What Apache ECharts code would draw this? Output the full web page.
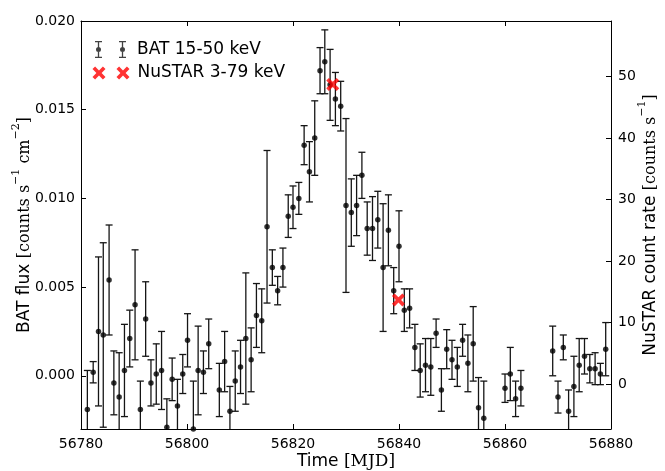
<!DOCTYPE html>
<html>
<head>
<meta charset="utf-8">
<script src="https://cdn.jsdelivr.net/npm/echarts@6/dist/echarts.min.js"></script>
<style>
html,body{margin:0;padding:0;background:#fff;}
#chart{width:665px;height:471px;}
</style>
</head>
<body>
<div id="chart"></div>
<script>
// ---- data ----
const batMjd = [56781.2,56782.3,56783.3,56784.2,56785.3,56786.2,56787.2,56788.2,56789.2,56790.2,
  56791.2,56792.2,56793.2,56794.2,56795.2,56796.2,56797.2,56798.2,56799.2,56800.1,
  56801.2,56802.1,56803.1,56804.1,56806.1,56807.1,56808.1,56809.1,56810.1,56811.1,
  56812.1,56813.1,56814.1,56815.1,56816.1,56817.1,56818.1,56819.1,56820.0,56821.1,
  56822.1,56823.1,56824.1,56825.1,56826.0,56827.0,56828.0,56829.0,56830.0,56831.0,
  56832.0,56833.0,56834.0,56835.0,56836.0,56837.0,56838.0,56839.0,56840.0,56841.0,
  56842.0,56843.0,56844.0,56845.0,56846.0,56847.0,56848.0,56849.0,56850.0,56851.0,
  56852.0,56853.0,56854.0,56855.0,56856.0,56860.0,56861.0,56862.0,56863.0,56869.0,
  56870.0,56871.0,56872.0,56873.0,56874.0,56875.0,56876.0,56877.0,56878.0,56879.0];
const batFlux = [-0.0019,0.0002,0.0025,0.0023,0.0054,-0.0004,-0.0012,0.0003,0.0021,0.0040,
  -0.0019,0.0032,-0.0004,0.0001,0.0003,-0.0029,-0.0002,-0.0017,0.0001,0.0020,
  -0.0030,0.0003,0.0002,0.0018,-0.0008,0.0008,-0.0020,-0.0003,0.0005,0.0021,
  0.0009,0.0034,0.0031,0.0084,0.0061,0.0048,0.0061,0.0090,0.0095,0.0100,
  0.0130,0.0115,0.0134,0.0172,0.0177,0.0164,0.0156,0.0152,0.0096,0.0092,
  0.0096,0.0113,0.0083,0.0083,0.0088,0.0061,0.0082,0.0048,0.0073,0.0037,
  0.0038,0.0016,0.0003,0.0006,0.0005,0.0024,-0.0008,0.0015,0.0009,0.0005,
  0.0020,0.0007,0.0018,-0.0018,-0.0024,-0.0007,0.0001,-0.0013,-0.0007,0.0014,
  -0.0012,0.0016,-0.0020,-0.0006,0.0006,0.0011,0.0004,0.0004,0.0001,0.0015];
const batErr = [0.0022,0.0006,0.0042,0.0052,0.0031,0.0018,0.0025,0.0026,0.0016,0.0031,
  0.0016,0.0021,0.0013,0.0017,0.0022,0.0016,0.0012,0.0015,0.0011,0.0015,
  0.0027,0.0025,0.0012,0.0014,0.0015,0.0017,0.0014,0.0017,0.0015,0.0037,
  0.0018,0.0018,0.0018,0.0043,0.0010,0.0008,0.0011,0.0012,0.0012,0.0009,
  0.0011,0.0017,0.0021,0.0013,0.0018,0.0020,0.0015,0.0014,0.0049,0.0019,
  0.0017,0.0013,0.0015,0.0018,0.0016,0.0036,0.0020,0.0013,0.0020,0.0012,
  0.0011,0.0013,0.0015,0.0015,0.0016,0.0008,0.0012,0.0011,0.0011,0.0011,
  0.0009,0.0016,0.0021,0.0017,0.0021,0.0008,0.0015,0.0010,0.0010,0.0014,
  0.0009,0.0007,0.0012,0.0017,0.0015,0.0010,0.0008,0.0009,0.0006,0.0015];
const nuMjd = [56827.5, 56839.9];
const nuRate = [48.7, 13.7];
const xTicks = [56780, 56800, 56820, 56840, 56860, 56880];
const leftTicks = [0.000, 0.005, 0.010, 0.015, 0.020];
const rightTicks = [0, 10, 20, 30, 40, 50];

// ---- chart ----
const FONT = 'DejaVu Sans';
const SERIF = 'DejaVu Serif';
const chart = echarts.init(document.getElementById('chart'), null, {renderer: 'canvas'});

const errData = batMjd.map((x, i) => [x, batFlux[i] - batErr[i], batFlux[i] + batErr[i]]);
const batPts = batMjd.map((x, i) => [x, batFlux[i]]);
const nuPts = nuMjd.map((x, i) => [x, nuRate[i]]);

const crossPath = 'path://M0,2 L2,0 L5,3 L8,0 L10,2 L7,5 L10,8 L8,10 L5,7 L2,10 L0,8 L3,5 Z';
function crossAt(ox) {
  const p = [[0,2],[2,0],[5,3],[8,0],[10,2],[7,5],[10,8],[8,10],[5,7],[2,10],[0,8],[3,5]];
  return 'M' + p.map(q => (ox + q[0]*1.3).toFixed(2) + ',' + (q[1]*1.3).toFixed(2)).join(' L') + ' Z';
}
const legendCross = 'path://' + crossAt(0) + ' ' + crossAt(24);
function ibeam(cx) {
  const w = 3.5, t = 0.65, h = 17, c = 1.3;
  return `M${cx-w},0 H${cx+w} V${c} H${cx-w} Z ` +
         `M${cx-t},0 H${cx+t} V${h} H${cx-t} Z ` +
         `M${cx-w},${h-c} H${cx+w} V${h} H${cx-w} Z ` +
         `M${cx-2.5},8.5 A2.5,2.5 0 1 1 ${cx+2.5},8.5 A2.5,2.5 0 1 1 ${cx-2.5},8.5 Z`;
}
const legendErr = 'path://' + ibeam(3.5) + ' ' + ibeam(27.5);

const axisLineStyle = {color: '#000', width: 1};
const tickStyle = {color: '#000', width: 1};

const option = {
  backgroundColor: '#fff',
  animation: false,
  textStyle: {fontFamily: FONT},
  grid: {left: 81, right: 54, top: 21, bottom: 42, containLabel: false, outerBoundsMode: 'none'},
  legend: [
    {
      left: 90, top: 36, orient: 'vertical',
      itemWidth: 31, itemHeight: 17,
      data: [{name: 'BAT 15-50 keV', icon: legendErr, itemStyle: {color: '#111'}}],
      textStyle: {fontFamily: FONT, fontSize: 17, color: '#000', padding: [0, 0, 0, 6]},
      selectedMode: false
    },
    {
      left: 87.5, top: 59.5, orient: 'vertical',
      itemWidth: 37, itemHeight: 13,
      data: [{name: 'NuSTAR 3-79 keV', icon: legendCross, itemStyle: {color: '#ff0000'}}],
      textStyle: {fontFamily: FONT, fontSize: 17, color: '#000', padding: [0, 0, 0, 3]},
      selectedMode: false
    }
  ],
  xAxis: [
    {
      type: 'value', position: 'bottom', min: 56780, max: 56880, interval: 20,
      axisLine: {show: true, onZero: false, lineStyle: axisLineStyle},
      axisTick: {show: true, inside: true, length: 5, lineStyle: tickStyle},
      axisLabel: {show: true, color: '#000', fontSize: 14, fontFamily: FONT, margin: 8,
        formatter: v => String(v)},
      splitLine: {show: false},
      name: '{s|Time }{m|[MJD]}', nameLocation: 'middle', nameGap: 24, nameMoveOverlap: false,
      nameTextStyle: {
        rich: {
          s: {fontFamily: FONT, fontSize: 17, color: '#000'},
          m: {fontFamily: SERIF, fontSize: 17, color: '#000'}
        }
      }
    },
    {
      type: 'value', position: 'top', min: 56780, max: 56880, interval: 20,
      axisLine: {show: true, onZero: false, lineStyle: axisLineStyle},
      axisTick: {show: true, inside: true, length: 5, lineStyle: tickStyle},
      axisLabel: {show: false},
      splitLine: {show: false}
    }
  ],
  yAxis: [
    {
      type: 'value', position: 'left', min: -0.003, max: 0.020,
      axisLine: {show: true, onZero: false, lineStyle: axisLineStyle},
      axisTick: {show: true, inside: true, length: 5, lineStyle: tickStyle, customValues: leftTicks},
      axisLabel: {show: true, color: '#000', fontSize: 14, fontFamily: FONT, margin: 6,
        customValues: leftTicks, formatter: v => v.toFixed(3)},
      splitLine: {show: false},
      name: '{s|BAT flux }{m|[counts s}{p|−1}{m| cm}{p|−2}{m|]}',
      nameLocation: 'middle', nameRotate: 90, nameGap: 48, nameMoveOverlap: false,
      nameTextStyle: {
        rich: {
          s: {fontFamily: FONT, fontSize: 17, color: '#000', verticalAlign: 'bottom', lineHeight: 22},
          m: {fontFamily: SERIF, fontSize: 16, color: '#000', verticalAlign: 'bottom', lineHeight: 22},
          p: {fontFamily: SERIF, fontSize: 11, color: '#000', verticalAlign: 'top', lineHeight: 22}
        }
      }
    },
    {
      type: 'value', position: 'right', min: -7.26, max: 59.0,
      axisLine: {show: true, onZero: false, lineStyle: axisLineStyle},
      axisTick: {show: true, inside: true, length: 5, lineStyle: tickStyle, customValues: rightTicks},
      axisLabel: {show: true, color: '#000', fontSize: 14, fontFamily: FONT, margin: 7,
        customValues: rightTicks, formatter: v => String(v)},
      splitLine: {show: false},
      name: '{s|NuSTAR count rate }{m|[counts s}{p|−1}{m|]}',
      nameLocation: 'middle', nameRotate: 90, nameGap: 26, nameMoveOverlap: false,
      nameTextStyle: {
        rich: {
          s: {fontFamily: FONT, fontSize: 17, color: '#000', verticalAlign: 'bottom', lineHeight: 22},
          m: {fontFamily: SERIF, fontSize: 16, color: '#000', verticalAlign: 'bottom', lineHeight: 22},
          p: {fontFamily: SERIF, fontSize: 11, color: '#000', verticalAlign: 'top', lineHeight: 22}
        }
      }
    }
  ],
  series: [
    {
      name: 'BAT err', type: 'custom', xAxisIndex: 0, yAxisIndex: 0, clip: true,
      data: errData, encode: {x: 0, y: [1, 2]},
      renderItem: function (params, api) {
        const x = api.value(0);
        const lo = api.coord([x, api.value(1)]);
        const hi = api.coord([x, api.value(2)]);
        const hw = 3.5;
        const st = {stroke: '#151515', lineWidth: 1.3};
        return {
          type: 'group',
          children: [
            {type: 'line', shape: {x1: lo[0], y1: lo[1], x2: hi[0], y2: hi[1]}, style: st},
            {type: 'line', shape: {x1: lo[0] - hw, y1: lo[1], x2: lo[0] + hw, y2: lo[1]}, style: st},
            {type: 'line', shape: {x1: hi[0] - hw, y1: hi[1], x2: hi[0] + hw, y2: hi[1]}, style: st}
          ]
        };
      },
      silent: true, z: 2
    },
    {
      name: 'BAT 15-50 keV', type: 'scatter', xAxisIndex: 0, yAxisIndex: 0,
      data: batPts, symbol: 'circle', symbolSize: 5.5,
      itemStyle: {color: '#000'}, z: 3, clip: true
    },
    {
      name: 'NuSTAR 3-79 keV', type: 'scatter', xAxisIndex: 0, yAxisIndex: 1,
      data: nuPts, symbol: crossPath, symbolSize: 13,
      itemStyle: {color: '#ff0000'}, z: 4
    }
  ]
};
chart.setOption(option);
</script>
</body>
</html>
